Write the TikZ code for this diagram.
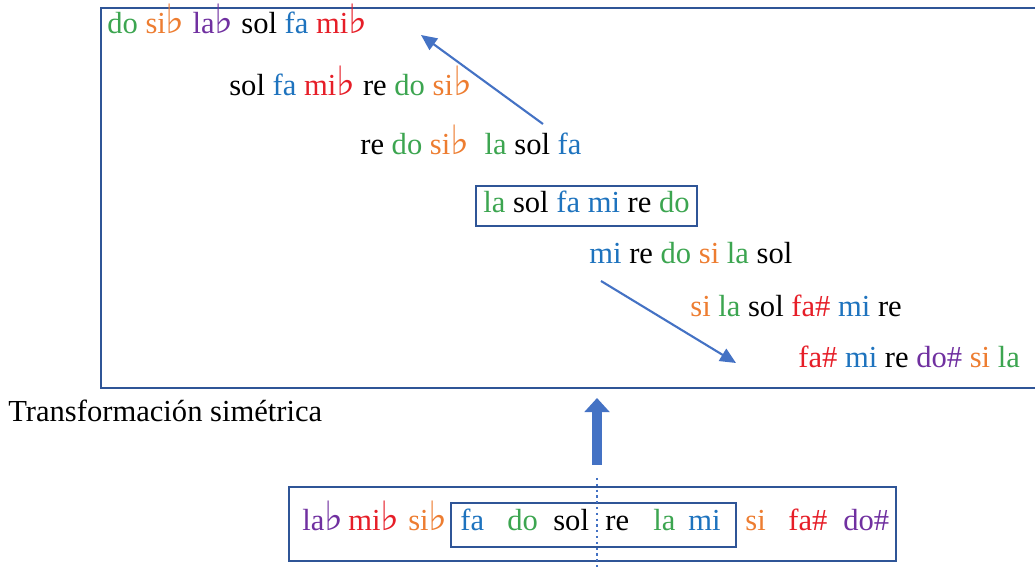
\documentclass[tikz,border=0pt]{standalone}
\usepackage{fontspec}
\setmainfont{Liberation Serif}
\newfontfamily\flatfont{DejaVu Sans}
\usepackage{xcolor}
\usetikzlibrary{arrows.meta,positioning}

\definecolor{notegreen}{RGB}{60,165,80}
\definecolor{noteorange}{RGB}{237,125,49}
\definecolor{notepurple}{RGB}{112,48,160}
\definecolor{noteblue}{RGB}{30,115,190}
\definecolor{notered}{RGB}{230,30,40}
\definecolor{framecol}{RGB}{47,85,151}
\definecolor{arrowcol}{RGB}{68,114,196}

% note names
\newcommand{\fl}{{\flatfont\fontsize{23}{20}\selectfont\symbol{"266D}}}
\newcommand{\gn}[1]{\textcolor{notegreen}{#1}}
\newcommand{\on}[1]{\textcolor{noteorange}{#1}}
\newcommand{\pn}[1]{\textcolor{notepurple}{#1}}
\newcommand{\bn}[1]{\textcolor{noteblue}{#1}}
\newcommand{\rn}[1]{\textcolor{notered}{#1}}

\begin{document}
\begin{tikzpicture}[
  x=0.02cm, y=-0.02cm,
  every node/.style={font=\fontsize{17.4}{20}\selectfont},
  row/.style={anchor=base west, inner sep=0pt},
  frame/.style={draw=framecol, line width=1.2pt},
  arrow/.style={-{Triangle[length=9pt, width=8pt]}, draw=arrowcol, line width=1.2pt},
  bigarrow/.style={-{Triangle[length=8pt, width=14pt]}, draw=arrowcol, line width=5.6pt}
]
\useasboundingbox (0,0) rectangle (1035,567);

% upper frame, open on the right
\draw[frame] (1045,8) -- (101,8) -- (101,388) -- (1045,388);

\node[row] (r1) at (107,34)  {\gn{do} \on{si\fl} \pn{la\fl} sol \bn{fa} \rn{mi\fl}};
\node[row] (r2) at (229,96)  {sol \bn{fa} \rn{mi\fl} re \gn{do} \on{si\fl}};
\node[row] (r3) at (360,155) {re \gn{do} \on{si\fl}\ \ \gn{la} sol \bn{fa}};
\node[row] (r4) at (483,213) {\gn{la} sol \bn{fa} \bn{mi} re \gn{do}};
\node[row] (r5) at (589,264) {\bn{mi} re \gn{do} \on{si} \gn{la} sol};
\node[row] (r6) at (690,317) {\on{si} \gn{la} sol \rn{fa\#} \bn{mi} re};
\node[row] (r7) at (798,368) {\rn{fa\#} \bn{mi} re \pn{do\#} \on{si} \gn{la}};

\draw[frame] (476,186) rectangle (697,226);

\coordinate (a1s) at (543,124);
\coordinate (a1e) at (421,35);
\coordinate (a2s) at (601,281);
\coordinate (a2e) at (736,363);
\draw[arrow] (a1s) -- (a1e);
\draw[arrow] (a2s) -- (a2e);

\node[row] (title) at (8,422) {Transformación simétrica};

\coordinate (up-tail) at (597,465);
\coordinate (up-head) at (597,398);
\draw[bigarrow] (up-tail) -- (up-head);

% lower row with its axis
\draw[frame] (289,487) rectangle (896,561);
\draw[frame] (451,503) rectangle (736,547);
\draw[arrowcol, line width=1.3pt, dotted] (597,478) -- (597,570);

\node[row] (n1)  at (302,531) {\pn{la\fl}};
\node[row] (n2)  at (348,531) {\rn{mi\fl}};
\node[row] (n3)  at (408,531) {\on{si\fl}};
\node[row] (n4)  at (460,531) {\bn{fa}};
\node[row] (n5)  at (507,531) {\gn{do}};
\node[row] (n6)  at (553,531) {sol};
\node[row] (n7)  at (605,531) {re};
\node[row] (n8)  at (653,531) {\gn{la}};
\node[row] (n9)  at (688,531) {\bn{mi}};
\node[row] (n10) at (745,531) {\on{si}};
\node[row] (n11) at (788,531) {\rn{fa\#}};
\node[row] (n12) at (843,531) {\pn{do\#}};
\end{tikzpicture}
\end{document}
